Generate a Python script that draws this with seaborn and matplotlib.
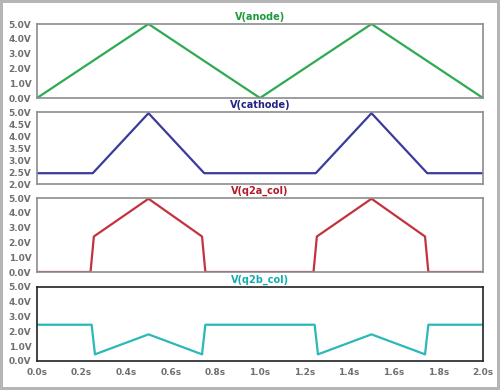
import numpy as np
import pandas as pd
import matplotlib.pyplot as plt
import seaborn as sns

# Waveform breakpoints (time in s, voltage in V)
t_anode = [0.0, 0.5, 1.0, 1.5, 2.0]
v_anode = [0.0, 5.0, 0.0, 5.0, 0.0]

t_cathode = [0.0, 0.25, 0.5, 0.75, 1.25, 1.5, 1.75, 2.0]
v_cathode = [2.45, 2.45, 4.95, 2.45, 2.45, 4.95, 2.45, 2.45]

t_q2a = [0.0, 0.24, 0.255, 0.5, 0.74, 0.755, 1.24, 1.255, 1.5, 1.74, 1.755, 2.0]
v_q2a = [0.0, 0.0, 2.4, 4.95, 2.4, 0.0, 0.0, 2.4, 4.95, 2.4, 0.0, 0.0]

t_q2b = [0.0, 0.245, 0.26, 0.5, 0.74, 0.755, 1.245, 1.26, 1.5, 1.74, 1.755, 2.0]
v_q2b = [2.45, 2.45, 0.45, 1.8, 0.45, 2.45, 2.45, 0.45, 1.8, 0.45, 2.45, 2.45]

titles = ['V(anode)', 'V(cathode)', 'V(q2a_col)', 'V(q2b_col)']
line_colors = ['#2eaa50', '#3b3b9c', '#c4323e', '#2bb8b8']
title_colors = ['#1e9a3c', '#232383', '#b31b2b', '#12adb0']
y_limits = [(0, 5), (2, 5), (0, 5), (0, 5)]
y_steps = [1.0, 0.5, 1.0, 1.0]
x_ticks = [0.0, 0.2, 0.4, 0.6, 0.8, 1.0, 1.2, 1.4, 1.6, 1.8, 2.0]

series = [(t_anode, v_anode), (t_cathode, v_cathode), (t_q2a, v_q2a), (t_q2b, v_q2b)]

sns.set_style('white')
plt.rcParams['font.family'] = ['DejaVu Sans']

fig = plt.figure(figsize=(5, 3.9), dpi=100)
fig.patch.set_edgecolor('#b5b5b5')
fig.patch.set_linewidth(3)

# panel boxes in pixels: (top, bottom)
boxes = [(24, 98), (112, 184), (198, 272), (287, 361)]
left, right = 37, 483

for i, ((t, v), (top, bot)) in enumerate(zip(series, boxes)):
    ax = fig.add_axes([left / 500, 1 - bot / 390, (right - left) / 500, (bot - top) / 390])
    df = pd.DataFrame({'t': t, 'v': v})
    sns.lineplot(data=df, x='t', y='v', ax=ax, color=line_colors[i], linewidth=1.6,
                 estimator=None, sort=False)
    ax.set_xlim(0, 2)
    lo, hi = y_limits[i]
    ax.set_ylim(lo, hi)
    yt = np.arange(lo, hi + 0.001, y_steps[i])
    ax.set_yticks(yt)
    ax.set_yticklabels([f'{y:.1f}V' for y in yt])
    ax.set_xlabel('')
    ax.set_ylabel('')
    ax.set_title(titles[i], color=title_colors[i], fontsize=7, fontweight='bold', pad=3)
    spine_col = '#222222' if i == 3 else '#8c8c8c'
    for s in ax.spines.values():
        s.set_color(spine_col)
        s.set_linewidth(1.2)
    ax.tick_params(axis='both', which='both', direction='out', length=3, width=1,
                   color=spine_col, labelsize=6.5, labelcolor='#6f6f6f', pad=1)
    for lab in ax.get_yticklabels():
        lab.set_fontweight('bold')
    ax.set_xticks(x_ticks)
    if i == 3:
        ax.set_xticklabels([f'{x:.1f}s' for x in x_ticks])
        for lab in ax.get_xticklabels():
            lab.set_fontweight('bold')
        ax.tick_params(axis='x', pad=2)
    else:
        ax.tick_params(axis='x', length=0, labelbottom=False)

fig.savefig('out.png', dpi=100)
